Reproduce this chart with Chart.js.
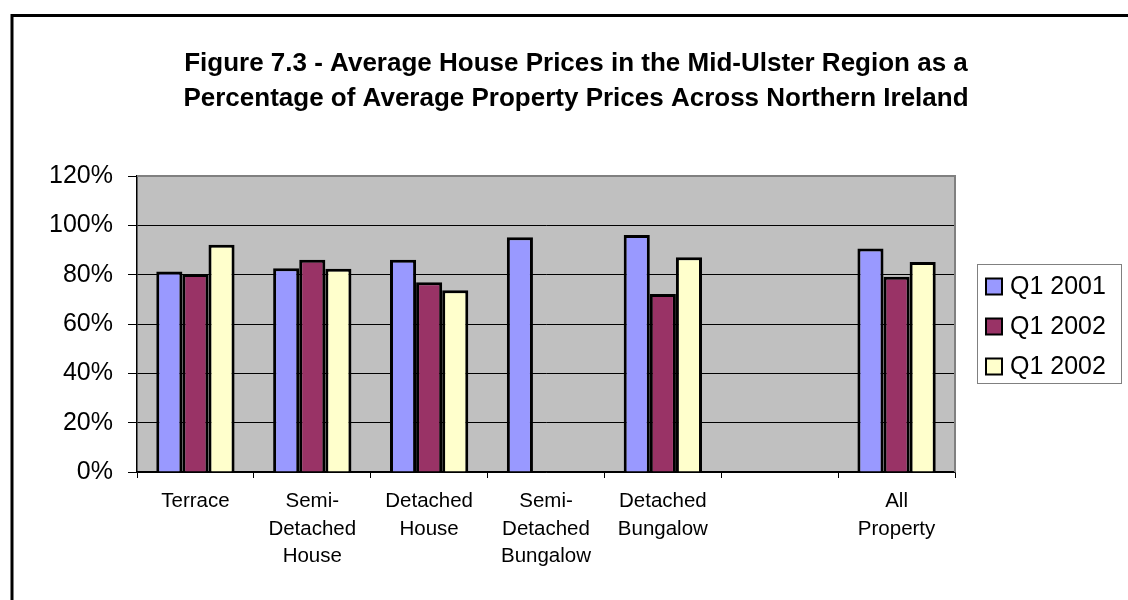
<!DOCTYPE html>
<html lang="en">
<head>
    <meta charset="UTF-8">
    <title>Figure 7.3 - Average House Prices</title>
    <script src="https://cdn.jsdelivr.net/npm/chart.js"></script>
    <style>
        html, body { margin: 0; padding: 0; background: #fff; }
        .chart-box { width: 1128px; height: 600px; }
    </style>
</head>
<body>
    <div class="chart-box">
        <canvas id="barChart" width="1128" height="600"></canvas>
    </div>

    <script>
        // chart data
        const titleLines = [
            'Figure 7.3 - Average House Prices in the Mid-Ulster Region as a',
            'Percentage of Average Property Prices Across Northern Ireland'
        ];
        const categories = [
            'Terrace',
            ['Semi-', 'Detached', 'House'],
            ['Detached', 'House'],
            ['Semi-', 'Detached', 'Bungalow'],
            ['Detached', 'Bungalow'],
            '',
            ['All', 'Property']
        ];
        const seriesNames = ['Q1 2001', 'Q1 2002', 'Q1 2002'];
        const q1_2001 = [81.3, 82.6, 86.0, 95.2, 96.1, null, 90.6];
        const q1_2002a = [80.3, 86.0, 76.9, null, 72.2, null, 79.2];
        const q1_2002b = [92.1, 82.4, 73.7, null, 87.1, null, 85.1];
        const yMax = 120;
        const yStep = 20;

        const colours = ['#9999FF', '#993366', '#FFFFCC'];
        const FONT = "'Liberation Sans', Arial, sans-serif";

        // plot background, outer frame, title and boxed legend
        const framePlugin = {
            id: 'frame',
            beforeDraw(chart) {
                const ctx = chart.ctx;
                const a = chart.chartArea;
                ctx.save();
                ctx.fillStyle = '#fff';
                ctx.fillRect(0, 0, chart.width, chart.height);
                // outer border (only top and left are in view)
                ctx.strokeStyle = '#000';
                ctx.lineWidth = 3;
                ctx.beginPath();
                ctx.moveTo(12, chart.height);
                ctx.lineTo(12, 15.5);
                ctx.lineTo(chart.width, 15.5);
                ctx.stroke();
                ctx.fillStyle = '#C0C0C0';
                ctx.fillRect(a.left, a.top, a.right - a.left, a.bottom - a.top);
                ctx.restore();
            },
            beforeDatasetsDraw(chart) {
                const ctx = chart.ctx;
                const a = chart.chartArea;
                ctx.save();
                ctx.strokeStyle = '#808080';
                ctx.lineWidth = 2;
                ctx.beginPath();
                ctx.moveTo(a.left, a.top);
                ctx.lineTo(a.right, a.top);
                ctx.lineTo(a.right, a.bottom);
                ctx.stroke();
                ctx.restore();
            },
            afterDraw(chart) {
                const ctx = chart.ctx;
                const a = chart.chartArea;
                ctx.save();
                // title
                ctx.fillStyle = '#000';
                ctx.font = 'bold 26px ' + FONT;
                ctx.textAlign = 'center';
                ctx.textBaseline = 'middle';
                titleLines.forEach((line, i) => ctx.fillText(line, 576, 64 + i * 35));

                // legend
                const lx = a.right + 22;
                const lh = 119;
                const ly = Math.round((a.top + a.bottom) / 2 - lh / 2) - 0.5;
                ctx.strokeStyle = '#808080';
                ctx.lineWidth = 1;
                ctx.strokeRect(lx + 0.5, ly, 144, lh);
                ctx.font = '25px ' + FONT;
                ctx.textAlign = 'left';
                chart.data.datasets.forEach((ds, i) => {
                    const cy = ly + 22 + i * 40;
                    ctx.fillStyle = ds.backgroundColor;
                    ctx.fillRect(lx + 9, cy - 8, 16, 16);
                    ctx.strokeStyle = '#000';
                    ctx.lineWidth = 2;
                    ctx.strokeRect(lx + 9, cy - 8, 16, 16);
                    ctx.fillStyle = '#000';
                    ctx.fillText(ds.label, lx + 33, cy + 1);
                });
                ctx.restore();
            }
        };

        const ctx1 = document.getElementById('barChart').getContext('2d');
        new Chart(ctx1, {
            type: 'bar',
            data: {
                labels: categories,
                datasets: [q1_2001, q1_2002a, q1_2002b].map((vals, i) => ({
                    label: seriesNames[i],
                    data: vals,
                    backgroundColor: colours[i],
                    borderColor: '#000',
                    borderWidth: 3,
                    categoryPercentage: 0.67,
                    barPercentage: 1
                }))
            },
            options: {
                responsive: false,
                animation: false,
                devicePixelRatio: 1,
                layout: { padding: { top: 176, right: 173, left: 0, bottom: 0 } },
                plugins: {
                    legend: { display: false },
                    title: { display: false },
                    tooltip: { enabled: false }
                },
                scales: {
                    x: {
                        afterFit: s => { s.height = 128; },
                        grid: {
                            offset: true,
                            drawOnChartArea: false,
                            color: '#000',
                            tickLength: 6
                        },
                        border: { color: '#000', width: 1.5 },
                        ticks: {
                            color: '#000',
                            padding: 10,
                            maxRotation: 0,
                            autoSkip: false,
                            font: { family: FONT, size: 20.5, lineHeight: 1.34 }
                        }
                    },
                    y: {
                        min: 0,
                        max: yMax,
                        afterFit: s => { s.width = 137; },
                        grid: {
                            color: c => (c.tick && c.tick.value === yMax) ? '#808080' : '#000',
                            tickColor: '#000',
                            lineWidth: 1,
                            tickLength: 9
                        },
                        border: { color: '#000', width: 1.5 },
                        ticks: {
                            stepSize: yStep,
                            color: '#000',
                            padding: 15,
                            font: { family: FONT, size: 25 },
                            callback: v => v + '%'
                        }
                    }
                }
            },
            plugins: [framePlugin]
        });
    </script>
</body>
</html>
